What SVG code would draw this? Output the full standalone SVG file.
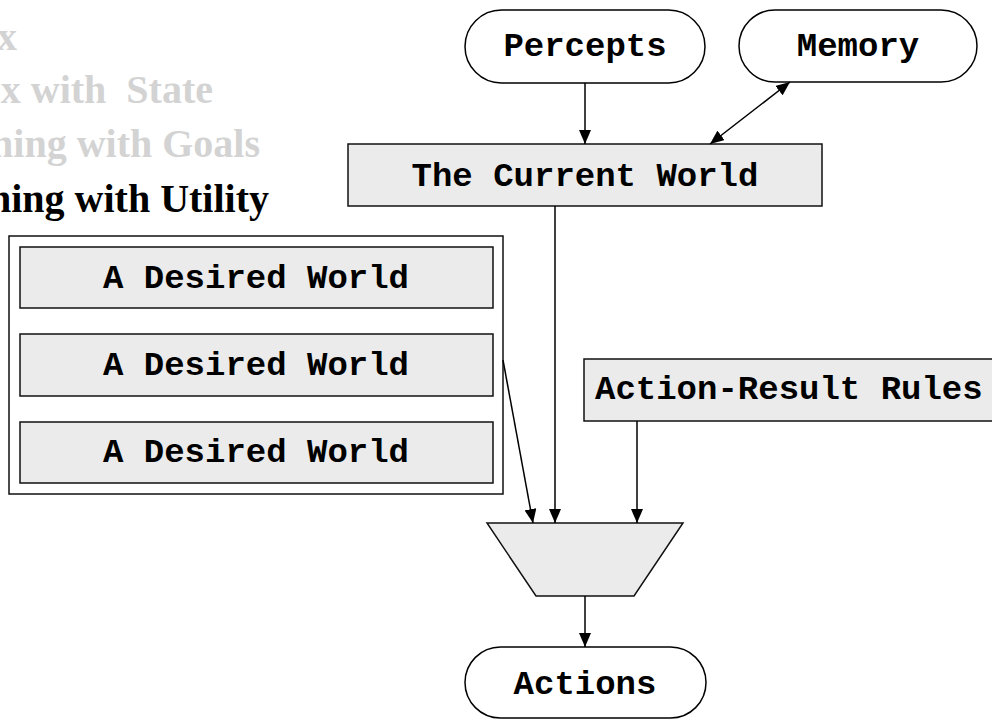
<svg xmlns="http://www.w3.org/2000/svg" width="992" height="719" viewBox="0 0 992 719">
  <defs>
    <marker id="arrow" markerUnits="userSpaceOnUse" markerWidth="14" markerHeight="12" refX="14" refY="6" orient="auto-start-reverse">
      <path d="M0,0 L14,6 L0,12 z" fill="#000"/>
    </marker>
    <style>
      .box { fill: #ebebeb; stroke: #111; stroke-width: 1.5; }
      .pill { fill: #fff; stroke: #000; stroke-width: 1.5; }
      .frame { fill: #fff; stroke: #111; stroke-width: 1.5; }
      .mono { font-family: "Liberation Mono", "Courier New", monospace; font-weight: bold; font-size: 34px; fill: #000; text-anchor: middle; }
      .title { font-family: "Liberation Serif", "Times New Roman", serif; font-weight: bold; font-size: 40px; text-anchor: end; white-space: pre; }
      .dim { fill: #d3d3d3; }
      .edge { fill: none; stroke: #000; stroke-width: 1.5; marker-end: url(#arrow); }
    </style>
  </defs>

  <!-- agent-type headings -->
  <g id="headings">
    <text class="title dim" x="17" y="50">x</text>
    <text class="title dim" x="213" y="103" xml:space="preserve">x with  State</text>
    <text class="title dim" x="260" y="157">ning with Goals</text>
    <text class="title" x="269" y="212" fill="#000">ning with Utility</text>
  </g>

  <g id="percepts">
    <rect class="pill" x="465" y="10" width="240" height="73" rx="36.5"/>
    <text class="mono" x="585" y="56">Percepts</text>
  </g>

  <g id="memory">
    <rect class="pill" x="739" y="10" width="238" height="72" rx="36"/>
    <text class="mono" x="858" y="56">Memory</text>
  </g>

  <g id="current-world">
    <rect class="box" x="348" y="144" width="474" height="62"/>
    <text class="mono" x="585" y="186">The Current World</text>
  </g>

  <g id="desired-worlds">
    <rect class="frame" x="9" y="236" width="494" height="258"/>
    <rect class="box" x="20" y="247" width="473" height="61"/>
    <text class="mono" x="256" y="288">A Desired World</text>
    <rect class="box" x="20" y="334" width="473" height="62"/>
    <text class="mono" x="256" y="375">A Desired World</text>
    <rect class="box" x="20" y="422" width="473" height="61"/>
    <text class="mono" x="256" y="462">A Desired World</text>
  </g>

  <g id="action-result-rules">
    <rect class="box" x="584" y="359" width="420" height="62"/>
    <text class="mono" x="595" y="399" style="text-anchor:start">Action-Result Rules</text>
  </g>

  <g id="selector">
    <polygon class="box" points="487,523 683,523 634,596 536,596"/>
  </g>

  <g id="actions">
    <rect class="pill" x="465" y="647" width="241" height="71" rx="35.5"/>
    <text class="mono" x="585" y="694">Actions</text>
  </g>

  <g id="connectors">
    <line class="edge" x1="585" y1="83" x2="585" y2="144"/>
    <line class="edge" x1="710" y1="144" x2="790" y2="82" marker-start="url(#arrow)"/>
    <line class="edge" x1="555" y1="206" x2="555" y2="523"/>
    <line class="edge" x1="503" y1="360" x2="533" y2="523"/>
    <line class="edge" x1="637" y1="421" x2="637" y2="523"/>
    <line class="edge" x1="585" y1="596" x2="585" y2="647"/>
  </g>
</svg>
